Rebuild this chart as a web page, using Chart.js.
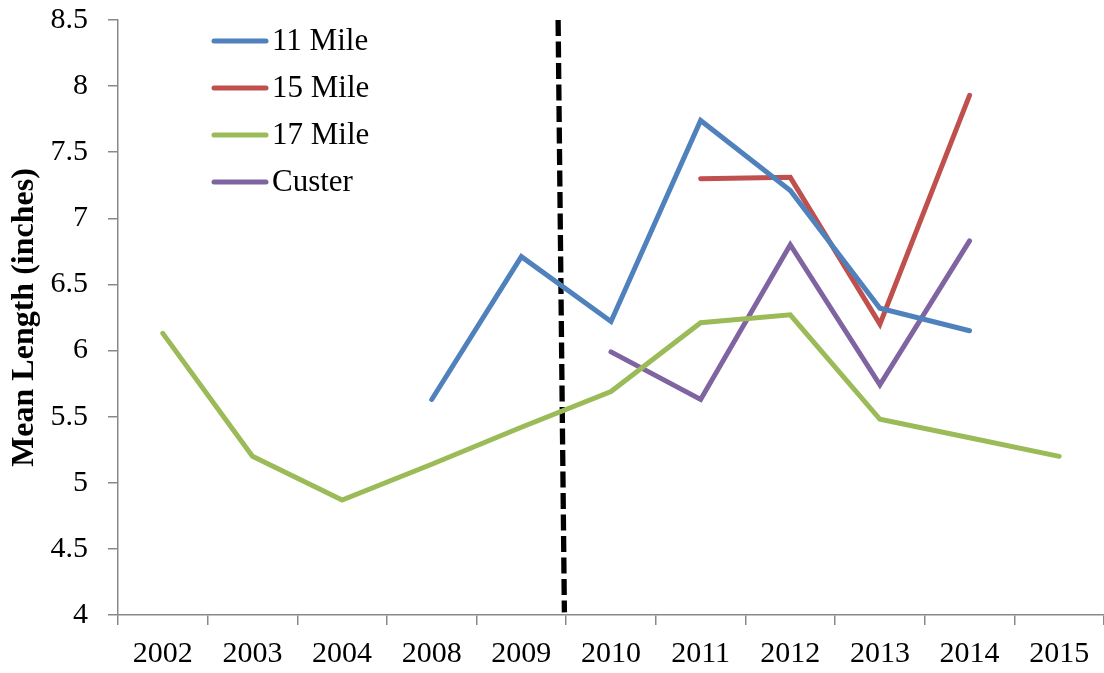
<!DOCTYPE html>
<html>
<head>
<meta charset="utf-8">
<script src="https://cdn.jsdelivr.net/npm/chart.js@4"></script>
<style>
  html, body { margin: 0; padding: 0; background: #fff; }
  #wrap { width: 1104px; height: 673px; position: relative; }
</style>
</head>
<body>
<div id="wrap"><canvas id="c"></canvas></div>
<script>
const categories = ['2002', '2003', '2004', '2008', '2009', '2010', '2011', '2012', '2013', '2014', '2015'];
const mile11 = [null, null, null, 5.63, 6.71, 6.22, 7.74, 7.21, 6.32, 6.15, null];
const mile15 = [null, null, null, null, null, null, 7.30, 7.31, 6.20, 7.93, null];
const mile17 = [6.13, 5.20, 4.87, 5.14, 5.42, 5.69, 6.21, 6.27, 5.48, 5.34, 5.20];
const custer = [null, null, null, null, null, 5.99, 5.63, 6.80, 5.74, 6.83, null];
const seriesNames = ['11 Mile', '15 Mile', '17 Mile', 'Custer'];
const seriesColors = ['#4F81BD', '#C0504D', '#9BBB59', '#8064A2'];
// divider line position, in category-index units (x) and axis values (y)
const dividerX = [4.41, 4.48];
const dividerY = [8.5, 4.02];
const yTicks = [4, 4.5, 5, 5.5, 6, 6.5, 7, 7.5, 8, 8.5];

const FONT = "'Liberation Serif', 'Times New Roman', serif";
const AXIS_GRAY = '#898989';

const seriesData = [mile11, mile15, mile17, custer];
const datasets = seriesData.map((d, i) => ({
  label: seriesNames[i],
  data: d,
  borderColor: seriesColors[i],
  backgroundColor: seriesColors[i],
  borderWidth: 5,
  borderCapStyle: 'round',
  pointRadius: 0,
  pointHoverRadius: 0,
  tension: 0,
  spanGaps: false,
  xAxisID: 'x',
  yAxisID: 'y'
}));
datasets.push({
  label: 'divider',
  type: 'line',
  data: dividerX.map((x, i) => ({ x: x, y: dividerY[i] })),
  borderColor: '#000',
  borderWidth: 5.3,
  borderDash: [16, 5.5],
  borderCapStyle: 'butt',
  pointRadius: 0,
  tension: 0,
  xAxisID: 'xl',
  yAxisID: 'y'
});

const customLegend = {
  id: 'customLegend',
  afterDraw(chart) {
    const ctx = chart.ctx;
    ctx.save();
    ctx.font = '31px ' + FONT;
    ctx.textBaseline = 'middle';
    ctx.textAlign = 'left';
    seriesNames.forEach((name, i) => {
      const y = 41 + i * 47;
      ctx.strokeStyle = seriesColors[i];
      ctx.lineWidth = 5;
      ctx.lineCap = 'round';
      ctx.beginPath();
      ctx.moveTo(214, y);
      ctx.lineTo(266, y);
      ctx.stroke();
      ctx.fillStyle = '#000';
      ctx.fillText(name, 272, y + 1);
    });
    ctx.restore();
  }
};

new Chart(document.getElementById('c'), {
  type: 'line',
  data: { labels: categories, datasets: datasets },
  options: {
    responsive: true,
    maintainAspectRatio: false,
    animation: false,
    devicePixelRatio: 1,
    layout: { padding: { top: 20, right: 0, left: 0, bottom: 0 } },
    plugins: {
      legend: { display: false },
      tooltip: { enabled: false }
    },
    scales: {
      x: {
        type: 'category',
        offset: true,
        grid: {
          offset: true,
          drawOnChartArea: false,
          drawTicks: true,
          tickLength: 10,
          color: AXIS_GRAY,
          lineWidth: 1.5
        },
        border: { display: true, color: AXIS_GRAY, width: 1.5 },
        ticks: {
          color: '#000',
          font: { family: FONT, size: 30 },
          padding: 11,
          maxRotation: 0,
          autoSkip: false
        },
        afterFit(scale) { scale.height = 58; scale.paddingLeft = 0; scale.paddingRight = 0; }
      },
      xl: {
        type: 'linear',
        display: false,
        min: -0.5,
        max: categories.length - 0.5
      },
      y: {
        type: 'linear',
        min: 4,
        max: 8.5,
        afterBuildTicks(scale) { scale.ticks = yTicks.map(v => ({ value: v })); },
        grid: {
          drawOnChartArea: false,
          drawTicks: true,
          tickLength: 10,
          color: AXIS_GRAY,
          lineWidth: 1.5
        },
        border: { display: true, color: AXIS_GRAY, width: 1.5 },
        ticks: {
          color: '#000',
          font: { family: FONT, size: 30 },
          padding: 20,
          callback: (v) => String(v)
        },
        title: {
          display: true,
          text: 'Mean Length (inches)',
          color: '#000',
          font: { family: FONT, size: 32, weight: 'bold' },
          padding: { top: 6, bottom: 0 }
        },
        afterFit(scale) { scale.width = 118; scale.paddingTop = 0; scale.paddingBottom = 0; }
      }
    }
  },
  plugins: [customLegend]
});
</script>
</body>
</html>
